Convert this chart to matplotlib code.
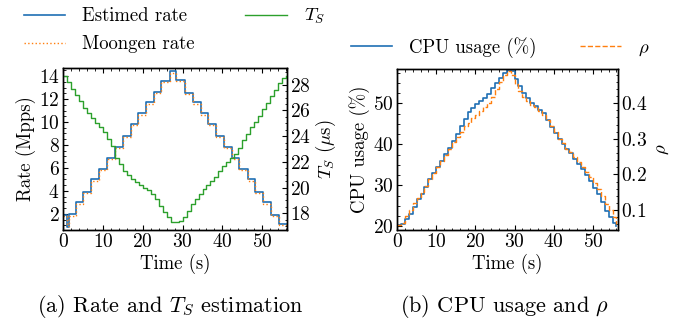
import matplotlib
matplotlib.use("Agg")
import matplotlib.pyplot as plt
from matplotlib.ticker import AutoMinorLocator
import numpy as np

# ---- data ----
# (a) rate steps: edges (s) and levels (Mpps)
rate_edges = [0, 1.0, 1.5, 3.2, 5.1, 7.0, 9.0, 11.1, 13.0, 15.1, 17.0, 18.8, 20.75,
              22.8, 24.7, 26.75, 28.4, 30.7, 32.6, 34.5, 36.5, 38.4, 40.3, 42.3,
              44.25, 46.3, 48.2, 50.3, 52.2, 54.25, 57.0]
est_rate = [1.9, 0.9, 1.95, 3.0, 3.95, 5.05, 5.9, 6.85, 7.8, 8.8, 9.8, 10.75, 11.7,
            12.6, 13.6, 14.4, 13.65, 12.55, 11.7, 10.75, 9.8, 8.8, 7.8, 6.85,
            5.9, 5.0, 3.95, 3.0, 1.9, 1.1]
moongen_rate = [1.85, 0.95, 1.85, 2.9, 3.85, 4.9, 5.8, 6.75, 7.7, 8.7, 9.7, 10.65, 11.6,
                12.5, 13.5, 14.3, 13.55, 12.45, 11.6, 10.65, 9.7, 8.7, 7.7, 6.75,
                5.8, 4.9, 3.85, 2.9, 1.8, 1.0]

# T_S per second (us)
ts_time = list(range(0, 57))
ts_vals = [28.7, 28.2, 27.7, 27.2, 26.7, 26.2, 25.8, 25.4, 25.0, 24.7, 24.3, 23.8, 23.2,
           22.3, 21.8, 21.3, 21.0, 20.7, 20.4, 20.2, 20.0, 19.8, 19.5, 19.1, 18.6, 18.1,
           17.7, 17.3, 17.3, 17.4, 17.7, 18.2, 18.7, 19.1, 19.5, 19.9, 20.2, 20.5, 20.8,
           21.3, 21.7, 22.0, 22.3, 22.6, 23.1, 23.7, 24.2, 24.7, 25.1, 25.6, 26.1, 26.6,
           27.1, 27.6, 28.1, 28.5, 28.7]

# (b) CPU usage (%) and rho per second
cpu_time = list(range(0, 57))
cpu_usage = [20.2, 20.6, 21.8, 23.0, 24.8, 26.6, 28.0, 29.6, 31.5, 33.0, 34.6, 36.0, 37.6,
             39.0, 40.8, 42.5, 44.5, 46.3, 47.8, 49.0, 49.8, 50.5, 51.2, 52.2, 53.8, 55.0,
             56.3, 57.5, 58.2, 57.8, 56.0, 54.2, 52.6, 51.2, 50.2, 49.3, 48.4, 47.6, 46.0,
             44.3, 42.8, 41.3, 40.0, 38.8, 37.8, 36.5, 35.2, 34.0, 32.6, 31.0, 29.4, 27.8,
             26.0, 23.8, 22.2, 20.8, 20.0]
rho = [0.057, 0.065, 0.082, 0.100, 0.120, 0.135, 0.150, 0.168, 0.188, 0.205, 0.222, 0.238,
       0.255, 0.272, 0.290, 0.305, 0.318, 0.335, 0.345, 0.358, 0.368, 0.378, 0.388, 0.400,
       0.418, 0.440, 0.460, 0.478, 0.490, 0.478, 0.455, 0.435, 0.418, 0.405, 0.395, 0.388,
       0.378, 0.368, 0.352, 0.335, 0.318, 0.300, 0.288, 0.272, 0.262, 0.248, 0.235, 0.222,
       0.208, 0.192, 0.175, 0.158, 0.140, 0.118, 0.100, 0.080, 0.060]

BLUE = "#1f6fb4"
ORANGE = "#ff7f0e"
GREEN = "#2ca02c"

plt.rcParams["font.family"] = "cmr10"
plt.rcParams["mathtext.fontset"] = "cm"
plt.rcParams["axes.formatter.use_mathtext"] = True
plt.rcParams["font.size"] = 13.5
plt.rcParams["xtick.labelsize"] = 14
plt.rcParams["ytick.labelsize"] = 14
plt.rcParams["axes.linewidth"] = 1.0


def style_ticks(ax):
    ax.tick_params(which="both", direction="in", top=True, right=False)
    ax.tick_params(which="major", length=3.5, width=0.8, pad=2.5)
    ax.tick_params(which="minor", length=1.8, width=0.6)
    ax.xaxis.set_minor_locator(AutoMinorLocator(5))
    ax.yaxis.set_minor_locator(AutoMinorLocator(4))


def style_twin(ax, minor):
    ax.tick_params(which="both", direction="in", right=True, left=False)
    ax.tick_params(which="major", length=3.5, width=0.8, pad=2.5)
    ax.tick_params(which="minor", length=1.8, width=0.6)
    ax.yaxis.set_minor_locator(AutoMinorLocator(minor))


fig = plt.figure(figsize=(6.93, 3.27), dpi=100)
W, H = 693.0, 327.0

# ---- (a) ----
ax1 = fig.add_axes([63 / W, 1 - 230 / H, (287 - 63) / W, (230 - 68) / H])
ax1b = ax1.twinx()
l1, = ax1.step(rate_edges, est_rate + [est_rate[-1]], where="post", color=BLUE,
               lw=1.2, label="Estimed rate")
l2, = ax1.step(rate_edges, moongen_rate + [moongen_rate[-1]], where="post", color=ORANGE,
               lw=1.0, ls=":", label="Moongen rate")
l3, = ax1b.step(ts_time, ts_vals, where="post", color=GREEN, lw=1.0, label="$T_S$")
ax1.set_xlim(0, 56.2)
ax1.set_ylim(0.6, 14.7)
ax1b.set_ylim(16.7, 29.3)
ax1.set_xticks([0, 10, 20, 30, 40, 50])
ax1.set_yticks([2, 4, 6, 8, 10, 12, 14])
ax1b.set_yticks([18, 20, 22, 24, 26, 28])
ax1.set_xlabel("Time (s)", labelpad=2)
ax1.set_ylabel("Rate (Mpps)", labelpad=2)
ax1b.set_ylabel("$T_S$ ($\\mu$s)", labelpad=2)
style_ticks(ax1)
style_twin(ax1b, 4)

fig.legend(handles=[l1, l2, l3], ncol=2, loc="upper left",
           bbox_to_anchor=(11 / W, 1 + 6 / H), frameon=False, fontsize=13.5,
           handlelength=2.2, handletextpad=0.9, columnspacing=2.7,
           labelspacing=0.55, borderpad=0.2)

# ---- (b) ----
ax2 = fig.add_axes([397 / W, 1 - 230 / H, (618 - 397) / W, (230 - 69) / H])
ax2b = ax2.twinx()
m1, = ax2.step(cpu_time, cpu_usage, where="post", color=BLUE, lw=1.2,
               label="CPU usage (%)")
m2, = ax2b.step(cpu_time, rho, where="post", color=ORANGE, lw=1.0, ls="--",
                label="$\\rho$")
ax2.set_xlim(0, 56.4)
ax2.set_ylim(19.1, 58.4)
ax2b.set_ylim(0.044, 0.496)
ax2.set_xticks([0, 10, 20, 30, 40, 50])
ax2.set_yticks([20, 30, 40, 50])
ax2b.set_yticks([0.1, 0.2, 0.3, 0.4])
ax2.set_xlabel("Time (s)", labelpad=2)
ax2.set_ylabel("CPU usage (%)", labelpad=2)
ax2b.set_ylabel("$\\rho$", labelpad=4)
style_ticks(ax2)
style_twin(ax2b, 5)

fig.legend(handles=[m1, m2], ncol=2, loc="upper left",
           bbox_to_anchor=(338 / W, 1 - 24 / H), frameon=False, fontsize=13.5,
           handlelength=2.2, handletextpad=0.9, columnspacing=2.3, borderpad=0.2)

# captions
fig.text(170 / W, 1 - 306 / H, "(a) Rate and $T_S$ estimation", ha="center",
         va="center", fontsize=16)
fig.text(505 / W, 1 - 306 / H, "(b) CPU usage and $\\rho$", ha="center",
         va="center", fontsize=16)

fig.savefig("out.png", dpi=100)
